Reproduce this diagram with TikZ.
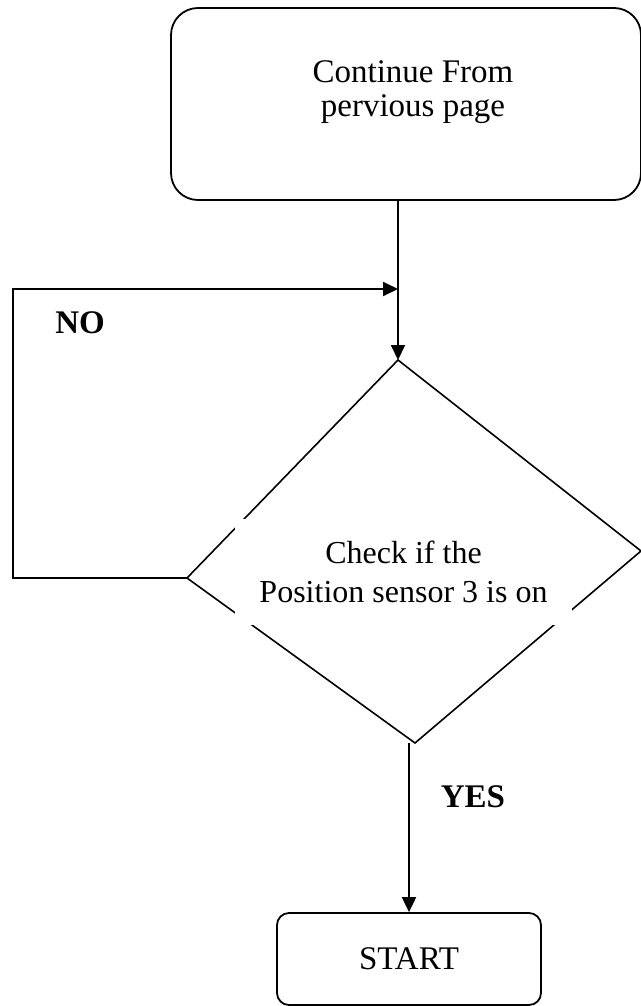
\documentclass[tikz,border=0pt]{standalone}
\usepackage{fontspec}
\setmainfont{Liberation Serif}
\usetikzlibrary{arrows.meta}

\tikzset{
    terminal/.style={draw, line width=0.9pt, rounded corners=#1, inner sep=0pt},
    flow/.style={->, line width=1pt},
    boxtext/.style={font=\fontsize{16.5}{17}\selectfont, align=center, inner sep=0pt},
    tag/.style={font=\fontsize{16.5}{19.5}\selectfont\bfseries, inner sep=0pt}
}

\begin{document}
\begin{tikzpicture}[x=0.5pt, y=-0.5pt, >={Triangle[length=7.5pt,width=7pt]}]
    \useasboundingbox (0,0) rectangle (641,1006);

    % Box at the top
    \node[terminal=13.5pt, minimum width=235pt, minimum height=96pt] (prev) at (406,104) {};
    \node[boxtext] (prevtext) at (413,92) {Continue From\\pervious page};

    % Decision
    \coordinate (dtop) at (398,360);
    \coordinate (dleft) at (187,578);
    \coordinate (dright) at (641,551);
    \coordinate (dbot) at (415,743);
    \draw[line width=0.8pt] (dtop) -- (dright) -- (dbot) -- (dleft) -- cycle;
    \node[boxtext, font=\fontsize{16}{19.5}\selectfont, fill=white,
          minimum width=168.5pt, minimum height=53pt] (check) at (403.5,572)
          {Check if the\\Position sensor 3 is on};

    % Box at the bottom
    \node[terminal=6pt, boxtext, minimum width=132pt, minimum height=46pt] (start) at (409,959) {START};

    % Connectors
    \coordinate (merge) at (398,289);
    \coordinate (loopx) at (13,0);
    \draw[flow] (prev.south -| dtop) -- (dtop);
    \draw[flow] (dleft) -- (dleft -| loopx) |- (merge);
    \draw[flow] (dbot -| start.north) -- (start.north);

    % Labels
    \node[tag] (no) at (80,323) {NO};
    \node[tag] (yes) at (473,797) {YES};
\end{tikzpicture}
\end{document}
